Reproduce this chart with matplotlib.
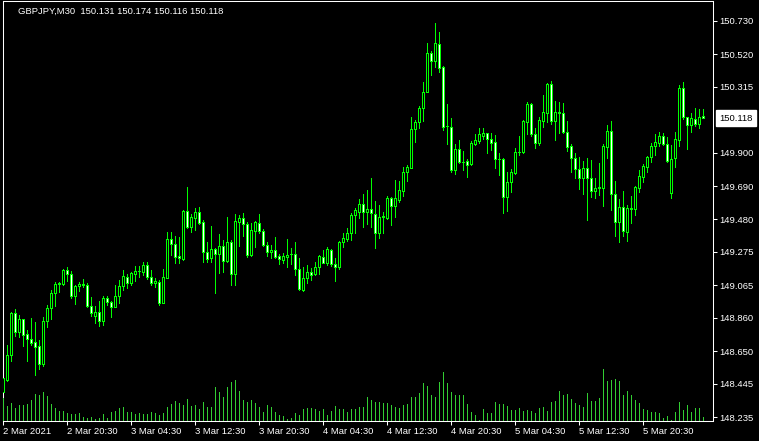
"""GBPJPY M30 candlestick chart in MetaTrader style"""

import matplotlib.pyplot as plt
import matplotlib.transforms as mtransforms
import numpy as np

symbol = "GBPJPY,M30"

opens = [148.392, 148.468, 148.626, 148.890, 148.770, 148.852, 148.758, 148.726, 148.707, 148.682,
         148.569, 148.840, 148.922, 149.016, 149.073, 149.073, 149.161, 149.136, 148.997, 149.060,
         149.073, 149.067, 148.934, 148.871, 148.896, 148.840, 148.985, 148.959, 148.928, 148.997,
         149.060, 149.117, 149.079, 149.136, 149.155, 149.148, 149.193, 149.117, 149.079, 149.085,
         148.953, 149.111, 149.356, 149.325, 149.249, 149.230, 149.533, 149.432, 149.489, 149.526,
         149.463, 149.274, 149.237, 149.293, 149.262, 149.312, 149.218, 149.337, 149.136, 149.463,
         149.489, 149.451, 149.256, 149.407, 149.457, 149.407, 149.318, 149.274, 149.287, 149.249,
         149.224, 149.243, 149.262, 149.262, 149.167, 149.035, 149.111, 149.148, 149.136, 149.180,
         149.243, 149.205, 149.287, 149.199, 149.180, 149.337, 149.356, 149.394, 149.508, 149.526,
         149.577, 149.526, 149.545, 149.514, 149.394, 149.495, 149.489, 149.615, 149.564, 149.602,
         149.659, 149.778, 149.804, 150.049, 150.093, 150.182, 150.282, 150.528, 150.478, 150.585,
         150.440, 150.068, 150.062, 149.791, 149.923, 149.841, 149.848, 149.829, 149.955, 149.974,
         150.005, 150.024, 149.986, 149.967, 149.860, 149.860, 149.621, 149.715, 149.772, 149.904,
         149.904, 150.093, 150.207, 150.018, 149.961, 150.100, 150.150, 150.333, 150.100, 150.156,
         150.150, 150.030, 149.942, 149.867, 149.797, 149.741, 149.804, 149.741, 149.659, 149.678,
         149.678, 149.936, 150.037, 149.640, 149.463, 149.558, 149.400, 149.552, 149.545, 149.678,
         149.747, 149.810, 149.873, 149.942, 149.961, 150.005, 149.955, 149.646, 149.867, 149.980,
         150.308, 150.125, 150.075, 150.112, 150.081, 150.131]

highs = [148.518, 148.689, 148.896, 148.915, 148.878, 148.852, 148.783, 148.859, 148.833, 148.720,
         148.865, 148.941, 149.035, 149.085, 149.085, 149.167, 149.180, 149.155, 149.067, 149.085,
         149.104, 149.079, 148.991, 148.934, 148.966, 148.997, 148.997, 148.966, 149.067, 149.098,
         149.161, 149.136, 149.148, 149.186, 149.186, 149.211, 149.211, 149.161, 149.111, 149.098,
         149.167, 149.400, 149.400, 149.375, 149.369, 149.539, 149.684, 149.514, 149.552, 149.558,
         149.476, 149.337, 149.438, 149.300, 149.388, 149.350, 149.495, 149.350, 149.514, 149.508,
         149.520, 149.463, 149.457, 149.470, 149.514, 149.419, 149.337, 149.318, 149.369, 149.262,
         149.268, 149.356, 149.300, 149.337, 149.237, 149.180, 149.193, 149.174, 149.211, 149.256,
         149.287, 149.306, 149.293, 149.237, 149.344, 149.394, 149.426, 149.520, 149.552, 149.608,
         149.640, 149.665, 149.741, 149.596, 149.571, 149.526, 149.627, 149.621, 149.728, 149.722,
         149.810, 149.822, 150.125, 150.106, 150.194, 150.345, 150.591, 150.541, 150.717, 150.660,
         150.446, 150.207, 150.119, 149.955, 149.980, 149.911, 149.860, 149.974, 150.018, 150.056,
         150.056, 150.024, 150.024, 150.012, 149.898, 149.867, 149.778, 149.797, 149.930, 150.005,
         150.106, 150.219, 150.213, 150.056, 150.125, 150.264, 150.339, 150.352, 150.226, 150.219,
         150.213, 150.100, 149.955, 149.898, 149.873, 149.848, 149.867, 149.854, 149.741, 149.835,
         149.955, 150.075, 150.100, 149.722, 149.608, 149.659, 149.571, 149.627, 149.690, 149.791,
         149.829, 149.879, 149.961, 150.018, 150.030, 150.024, 149.999, 149.948, 150.030, 150.327,
         150.345, 150.125, 150.150, 150.182, 150.175, 150.174]

lows = [148.361, 148.462, 148.588, 148.745, 148.739, 148.682, 148.588, 148.689, 148.500, 148.537,
        148.556, 148.802, 148.852, 148.934, 149.022, 149.067, 149.092, 148.985, 148.947, 149.029,
        149.054, 148.928, 148.871, 148.827, 148.808, 148.815, 148.941, 148.865, 148.928, 148.953,
        149.035, 149.048, 149.067, 149.092, 149.117, 149.130, 149.104, 149.067, 149.054, 148.941,
        148.953, 149.111, 149.256, 149.205, 149.205, 149.224, 149.426, 149.400, 149.413, 149.451,
        149.211, 149.211, 149.211, 149.016, 149.142, 149.148, 149.211, 149.067, 149.067, 149.312,
        149.375, 149.243, 149.249, 149.306, 149.394, 149.312, 149.249, 149.237, 149.237, 149.199,
        149.205, 149.180, 149.199, 149.130, 149.035, 149.029, 149.079, 149.098, 149.130, 149.136,
        149.205, 149.193, 149.186, 149.092, 149.167, 149.306, 149.344, 149.350, 149.394, 149.489,
        149.432, 149.451, 149.432, 149.300, 149.363, 149.394, 149.482, 149.445, 149.495, 149.589,
        149.627, 149.722, 149.804, 149.967, 150.056, 150.100, 150.282, 150.390, 150.440, 150.408,
        150.043, 149.955, 149.778, 149.766, 149.835, 149.791, 149.747, 149.822, 149.948, 149.961,
        149.986, 149.898, 149.917, 149.804, 149.760, 149.520, 149.533, 149.652, 149.766, 149.886,
        149.898, 150.018, 150.005, 149.930, 149.948, 150.062, 150.093, 150.081, 149.980, 150.024,
        150.024, 149.911, 149.778, 149.741, 149.671, 149.640, 149.476, 149.621, 149.615, 149.634,
        149.564, 149.867, 149.539, 149.375, 149.337, 149.375, 149.344, 149.457, 149.508, 149.652,
        149.715, 149.778, 149.841, 149.886, 149.942, 149.948, 149.841, 149.615, 149.810, 149.942,
        150.112, 149.923, 150.030, 150.068, 150.056, 150.116]

closes = [148.481, 148.626, 148.890, 148.770, 148.852, 148.752, 148.726, 148.701, 148.676, 148.569,
          148.840, 148.922, 149.016, 149.073, 149.079, 149.161, 149.136, 148.997, 149.060, 149.073,
          149.067, 148.934, 148.890, 148.896, 148.840, 148.985, 148.959, 148.928, 148.997, 149.060,
          149.123, 149.079, 149.142, 149.155, 149.155, 149.193, 149.117, 149.079, 149.092, 148.953,
          149.117, 149.356, 149.325, 149.243, 149.237, 149.533, 149.432, 149.495, 149.526, 149.457,
          149.274, 149.230, 149.293, 149.262, 149.312, 149.218, 149.337, 149.136, 149.470, 149.489,
          149.451, 149.256, 149.413, 149.463, 149.407, 149.318, 149.274, 149.287, 149.243, 149.230,
          149.249, 149.256, 149.262, 149.167, 149.041, 149.111, 149.148, 149.130, 149.180, 149.249,
          149.205, 149.293, 149.199, 149.180, 149.337, 149.363, 149.394, 149.508, 149.539, 149.577,
          149.526, 149.545, 149.520, 149.394, 149.495, 149.501, 149.615, 149.564, 149.615, 149.665,
          149.778, 149.810, 150.049, 150.093, 150.182, 150.282, 150.528, 150.478, 150.591, 150.434,
          150.062, 150.068, 149.791, 149.923, 149.841, 149.841, 149.822, 149.961, 149.980, 150.018,
          150.024, 149.986, 149.961, 149.860, 149.860, 149.621, 149.715, 149.778, 149.904, 149.904,
          150.100, 150.207, 150.018, 149.961, 150.106, 150.156, 150.333, 150.100, 150.156, 150.150,
          150.030, 149.936, 149.867, 149.797, 149.741, 149.804, 149.741, 149.659, 149.678, 149.684,
          149.942, 150.037, 149.640, 149.463, 149.558, 149.407, 149.552, 149.545, 149.684, 149.753,
          149.816, 149.873, 149.942, 149.967, 150.005, 149.955, 149.848, 149.860, 149.986, 150.308,
          150.125, 150.075, 150.119, 150.081, 150.125, 150.118]

volumes = [1380, 900, 1080, 780, 960, 960, 1020, 1260, 1620, 1560,
           1740, 1500, 1020, 780, 600, 600, 480, 420, 420, 480,
           240, 180, 240, 120, 180, 420, 180, 540, 600, 780,
           840, 540, 540, 420, 480, 420, 420, 540, 480, 360,
           480, 840, 1020, 1200, 1080, 960, 1320, 900, 960, 720,
           1140, 840, 840, 2040, 1740, 1440, 2040, 2340, 2460, 1800,
           1260, 1140, 1260, 1080, 840, 540, 960, 840, 540, 360,
           300, 120, 180, 480, 360, 720, 780, 780, 720, 600,
           720, 360, 600, 900, 720, 720, 540, 720, 720, 840,
           840, 1440, 1260, 1140, 1140, 1080, 1080, 960, 840, 780,
           960, 1020, 1440, 1440, 1680, 2280, 2100, 1560, 1440, 2340,
           2940, 2280, 1740, 1560, 1560, 1560, 1020, 540, 360, 60,
           720, 480, 480, 1140, 1020, 1020, 900, 660, 660, 780,
           600, 660, 600, 480, 780, 840, 600, 1140, 1200, 1800,
           1560, 1620, 1320, 1080, 960, 840, 1680, 1200, 1200, 1380,
           3120, 2400, 2460, 2520, 2400, 1560, 1800, 1560, 1260, 1080,
           720, 660, 540, 540, 480, 180, 300, 60, 540, 1140,
           660, 960, 540, 780, 780, 240]

time_labels = ['2 Mar 2021', '2 Mar 20:30', '3 Mar 04:30', '3 Mar 12:30', '3 Mar 20:30',
               '4 Mar 04:30', '4 Mar 12:30', '4 Mar 20:30', '5 Mar 04:30', '5 Mar 12:30',
               '5 Mar 20:30']
price_ticks = [148.235, 148.445, 148.650, 148.860, 149.065, 149.275, 149.480,
               149.690, 149.900, 150.315, 150.520, 150.730]
last_price = 150.118

GREEN = '#00ff00'
VOL_GREEN = '#32cd32'
FS = 6.8

plt.rcParams['font.family'] = ['Liberation Sans', 'DejaVu Sans']

o = np.array(opens)
h = np.array(highs)
l = np.array(lows)
c = np.array(closes)
assert len(o) == len(h) == len(l) == len(c) == len(volumes)
idx = np.arange(len(o))
bull = c >= o

fig = plt.figure(figsize=(7.59, 4.41), dpi=100, facecolor='black')
ax = fig.add_axes([2.5 / 759, 20 / 441, 710.5 / 759, 420.5 / 441])
ax.set_facecolor('black')

# volumes at the bottom of the price window
vax = ax.twinx()
vax.vlines(idx, 0, volumes, color=VOL_GREEN, lw=0.72, antialiased=False)
vax.set_ylim(0, max(volumes) * 8.09)
vax.axis('off')

# candles: wicks then bodies (bull = black body, bear = white body)
ax.vlines(idx, l, h, color=GREEN, lw=0.72, antialiased=False, zorder=2)
body_h = np.maximum(np.abs(c - o), 0.0004)
ax.bar(idx, body_h, bottom=np.minimum(o, c), width=0.5,
       color=np.where(bull, 'black', 'white'), edgecolor=GREEN,
       linewidth=0.72, antialiased=False, zorder=3)

ax.set_xlim(-0.2, 177.4)
ax.set_ylim(148.210, 150.859)

for s in ax.spines.values():
    s.set_color('white')
    s.set_linewidth(0.75)

ax.yaxis.tick_right()
ax.set_yticks(price_ticks)
ax.set_yticklabels(['{:.3f}'.format(p) for p in price_ticks])
ax.tick_params(axis='y', colors='white', length=3, width=0.75, pad=1.5,
               labelsize=FS)

ax.set_xticks(range(0, len(o), 16))
ax.set_xticklabels(time_labels, ha='left')
ax.tick_params(axis='x', colors='white', length=3, width=0.75, pad=1.5,
               labelsize=FS)

# current price marker on the price scale
trans = mtransforms.offset_copy(ax.get_yaxis_transform(), fig=fig,
                                x=6, y=0, units='dots')
ax.text(1, last_price, '{:.3f}'.format(last_price), transform=trans,
        ha='left', va='center', fontsize=FS, color='black', clip_on=False,
        bbox=dict(boxstyle='square,pad=0.35', fc='white', ec='white'),
        zorder=5)

header = "{}  {:.3f} {:.3f} {:.3f} {:.3f}".format(
    symbol, opens[-1], highs[-1], lows[-1], closes[-1])
fig.text(18 / 759, 1 - 11 / 441, header, color='white', fontsize=FS,
         ha='left', va='center')

fig.savefig('out.png', dpi=100, facecolor='black')
